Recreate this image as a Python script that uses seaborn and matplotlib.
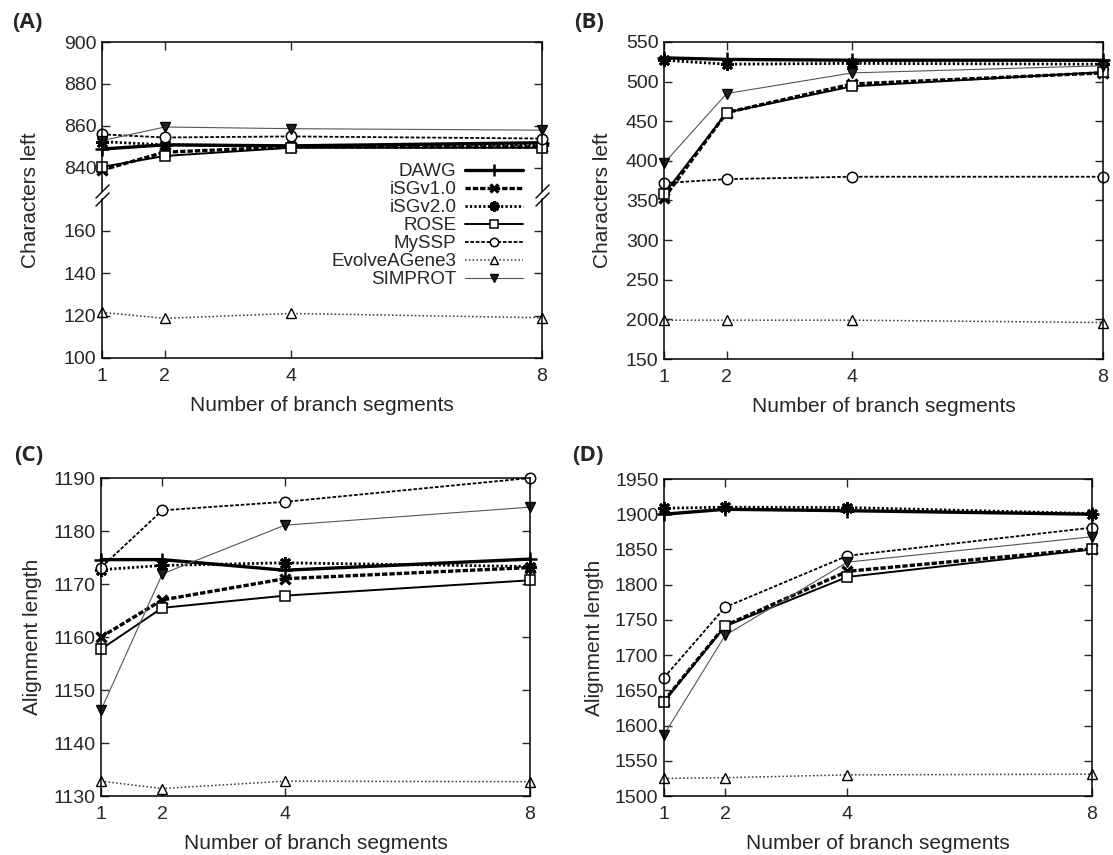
import matplotlib
matplotlib.use("Agg")
import matplotlib.pyplot as plt
import seaborn as sns
import pandas as pd

# x positions (number of branch segments)
segments = [1, 2, 4, 8]
methods = ["DAWG", "iSGv1.0", "iSGv2.0", "ROSE", "MySSP", "EvolveAGene3", "SIMPROT"]

# (A) characters left
chars_a = {
    "DAWG":         [849, 851, 850.5, 852],
    "iSGv1.0":      [839, 847.5, 850, 850],
    "iSGv2.0":      [852.5, 851, 850.5, 851],
    "ROSE":         [840.5, 845.7, 849.6, 849.6],
    "MySSP":        [856, 854.5, 855, 854],
    "EvolveAGene3": [121.5, 118.7, 121, 119],
    "SIMPROT":      [853, 859.5, 858.7, 858],
}
# (B) characters left
chars_b = {
    "DAWG":         [530, 528, 527, 527],
    "iSGv1.0":      [353, 461, 497, 511],
    "iSGv2.0":      [527, 522, 523, 522],
    "ROSE":         [358, 461, 494, 512],
    "MySSP":        [372, 377, 380, 380],
    "EvolveAGene3": [199, 199, 199, 196],
    "SIMPROT":      [397, 485, 511, 520],
}
# (C) alignment length
align_c = {
    "DAWG":         [1174.6, 1174.6, 1172.6, 1174.7],
    "iSGv1.0":      [1160, 1167, 1171, 1173.1],
    "iSGv2.0":      [1172.7, 1173.5, 1174, 1173.3],
    "ROSE":         [1157.7, 1165.5, 1167.8, 1170.7],
    "MySSP":        [1173.1, 1183.9, 1185.5, 1190],
    "EvolveAGene3": [1132.8, 1131.4, 1132.8, 1132.7],
    "SIMPROT":      [1146.2, 1171.9, 1181.1, 1184.5],
}
# (D) alignment length
align_d = {
    "DAWG":         [1900, 1907, 1905, 1900],
    "iSGv1.0":      [1635, 1742, 1819, 1851],
    "iSGv2.0":      [1908.5, 1910, 1909.5, 1901],
    "ROSE":         [1634, 1741, 1811, 1850],
    "MySSP":        [1668, 1768, 1841, 1881],
    "EvolveAGene3": [1525, 1526, 1530, 1531],
    "SIMPROT":      [1587, 1728, 1832, 1868],
}

# gnuplot-like line styles
styles = {
    "DAWG":         dict(color="black", lw=2.4, ls="-", marker="+", ms=10, mew=1.8, mfc="black"),
    "iSGv1.0":      dict(color="black", lw=2.4, ls=(0, (1.6, 0.6)), marker="x", ms=7, mew=2.4, mfc="black"),
    "iSGv2.0":      dict(color="black", lw=2.0, ls=(0, (0.8, 0.8)), marker=(8, 2, 0), ms=9, mew=2.0, mfc="black"),
    "ROSE":         dict(color="black", lw=1.4, ls="-", marker="s", ms=7, mew=1.1, mfc="white"),
    "MySSP":        dict(color="black", lw=1.3, ls=(0, (2, 1)), marker="o", ms=7.5, mew=1.1, mfc="white"),
    "EvolveAGene3": dict(color="#333333", lw=1.1, ls=(0, (1, 1.5)), marker="^", ms=7, mew=1.0, mfc="white"),
    "SIMPROT":      dict(color="#555555", lw=0.8, ls="-", marker="v", ms=6.5, mew=1.0, mfc="#222222"),
}

sns.set_style("ticks")
plt.rcParams["font.family"] = ["Liberation Sans", "DejaVu Sans"]
plt.rcParams["xtick.direction"] = "in"
plt.rcParams["ytick.direction"] = "in"

W, H = 1113, 855
fig = plt.figure(figsize=(W / 100, H / 100), dpi=100)


def box(left, top, right, bottom):
    return [left / W, 1 - bottom / H, (right - left) / W, (bottom - top) / H]


def draw(ax, data, names=methods):
    for name in names:
        st = styles[name]
        df = pd.DataFrame({"x": segments, "y": data[name]})
        sns.lineplot(data=df, x="x", y="y", ax=ax, label=name, legend=False,
                     color=st["color"], linewidth=st["lw"], linestyle=st["ls"],
                     marker=st["marker"], markersize=st["ms"], markeredgewidth=st["mew"],
                     markerfacecolor=st["mfc"], markeredgecolor="black",
                     errorbar=None, clip_on=False)
    ax.set_xlim(1, 8)
    ax.set_xticks(segments)
    ax.tick_params(top=True, right=True, length=6, width=1, labelsize=14)
    ax.tick_params(axis="x", pad=7)
    ax.tick_params(axis="y", pad=4)
    for s in ax.spines.values():
        s.set_linewidth(1.1)
        s.set_color("black")
    ax.set_xlabel("")
    ax.set_ylabel("")


XLAB = dict(fontsize=15, labelpad=8)
YLAB_SIZE = 15

# ---- (A) with a broken y axis ----
ax_at = fig.add_axes(box(102, 42, 542, 191))
ax_ab = fig.add_axes(box(102, 199, 542, 358))
top_names = [m for m in methods if m != "EvolveAGene3"]
draw(ax_at, chars_a, top_names)
draw(ax_ab, chars_a, ["EvolveAGene3"])
ax_at.set_ylim(829, 900)
ax_at.set_yticks([840, 860, 880, 900])
ax_ab.set_ylim(100, 175)
ax_ab.set_yticks([100, 120, 140, 160])
ax_at.spines["bottom"].set_visible(False)
ax_ab.spines["top"].set_visible(False)
ax_at.tick_params(bottom=False, labelbottom=False)
ax_ab.tick_params(top=False)
for a, yy in ((ax_at, 0), (ax_ab, 1)):
    a.plot([0, 1], [yy, yy], transform=a.transAxes, marker=[(-1, -1), (1, 1)],
           markersize=10, linestyle="none", color="k", mec="k", mew=1, clip_on=False)
ax_ab.set_xlabel("Number of branch segments", **XLAB)
fig.text(30 / W, 1 - 200 / H, "Characters left", rotation=90, fontsize=YLAB_SIZE,
         ha="center", va="center")

# legend built from panel A lines
handles, labels = [], []
for a in (ax_at, ax_ab):
    h, l = a.get_legend_handles_labels()
    handles += h
    labels += l
order = [labels.index(m) for m in methods]
fig.legend([handles[i] for i in order], [labels[i] for i in order],
           loc="upper right", bbox_to_anchor=(523 / W, 1 - 163 / H),
           frameon=False, markerfirst=False, fontsize=13.5, handlelength=3.1,
           labelspacing=0.05, handletextpad=0.45, borderaxespad=0, borderpad=0,
           markerscale=0.8)

# ---- (B) ----
ax_b = fig.add_axes(box(664, 42, 1103, 359))
draw(ax_b, chars_b)
ax_b.set_ylim(150, 550)
ax_b.set_yticks(range(150, 551, 50))
ax_b.set_xlabel("Number of branch segments", **XLAB)
ax_b.set_ylabel("Characters left", fontsize=YLAB_SIZE, labelpad=10)

# ---- (C) ----
ax_c = fig.add_axes(box(101, 478, 530, 796))
draw(ax_c, align_c)
ax_c.set_ylim(1130, 1190)
ax_c.set_yticks(range(1130, 1191, 10))
ax_c.set_xlabel("Number of branch segments", **XLAB)
ax_c.set_ylabel("Alignment length", fontsize=YLAB_SIZE, labelpad=8)

# ---- (D) ----
ax_d = fig.add_axes(box(664, 479, 1092, 796))
draw(ax_d, align_d)
ax_d.set_ylim(1500, 1950)
ax_d.set_yticks(range(1500, 1951, 50))
ax_d.set_xlabel("Number of branch segments", **XLAB)
ax_d.set_ylabel("Alignment length", fontsize=YLAB_SIZE, labelpad=8)

# panel letters
for txt, x, y in (("(A)", 12, 22), ("(B)", 574, 22), ("(C)", 14, 455), ("(D)", 572, 455)):
    fig.text(x / W, 1 - y / H, txt, fontsize=16, fontweight="bold",
             family=["Open Sans", "DejaVu Sans"], ha="left", va="center")

fig.savefig("out.png", dpi=100)
